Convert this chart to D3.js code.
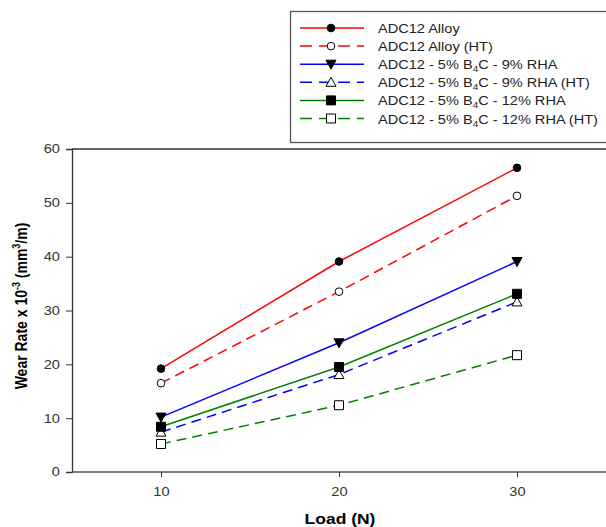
<!DOCTYPE html>
<html>
<head>
<meta charset="utf-8">
<script src="https://cdn.jsdelivr.net/npm/d3@7"></script>
<style>
  body { margin: 0; background: #fff; }
  svg { display: block; font-family: 'Liberation Sans', Arial, sans-serif; }
</style>
</head>
<body>
<svg></svg>
<script>
// data
const loads = [10, 20, 30]
const alloy = [19.2, 39.1, 56.5]
const alloyHT = [16.5, 33.5, 51.3]
const rha9 = [10.2, 24.0, 39.1]
const rha9HT = [7.4, 18.1, 31.6]
const rha12 = [8.4, 19.5, 33.1]
const rha12HT = [5.2, 12.4, 21.7]
const yTicks = [0, 10, 20, 30, 40, 50, 60]
const xTicks = [10, 20, 30]

const series = [
    {name: 'ADC12 Alloy', values: alloy, color: '#ff0000', dashed: false, marker: 'circle', fill: '#000'},
    {name: 'ADC12 Alloy (HT)', values: alloyHT, color: '#ff0000', dashed: true, marker: 'circle', fill: '#fff'},
    {name: 'ADC12 - 5% B|4|C - 9% RHA', values: rha9, color: '#0000ff', dashed: false, marker: 'triDown', fill: '#000'},
    {name: 'ADC12 - 5% B|4|C - 9% RHA (HT)', values: rha9HT, color: '#0000ff', dashed: true, marker: 'triUp', fill: '#fff'},
    {name: 'ADC12 - 5% B|4|C - 12% RHA', values: rha12, color: '#008000', dashed: false, marker: 'square', fill: '#000'},
    {name: 'ADC12 - 5% B|4|C - 12% RHA (HT)', values: rha12HT, color: '#008000', dashed: true, marker: 'square', fill: '#fff'}
]

const width = 606
const height = 527
const svg = d3.select('svg').attr('width', width).attr('height', height)

// the original picture is stretched sideways, so text gets a small x scale
const stretch = 1.22

const plotLeft = 72, plotTop = 149, plotBottom = 472, plotRight = 606

const xScale = d3.scaleLinear().domain([5, 35]).range([plotLeft, plotLeft + 534])
const yScale = d3.scaleLinear().domain([0, 60]).range([plotBottom, plotTop])

// frame: top line + axes
svg.append('line')
    .attr('x1', plotLeft).attr('x2', plotRight).attr('y1', plotTop).attr('y2', plotTop)
    .attr('stroke', '#333').attr('stroke-width', 1.3)

const yAxis = d3.axisLeft(yScale).tickValues(yTicks).tickSize(6)
const gy = svg.append('g').attr('transform', 'translate(' + plotLeft + ',0)').call(yAxis)
gy.select('.domain').attr('stroke', '#333').attr('stroke-width', 1.3)
gy.selectAll('.tick line').attr('stroke', '#333')
gy.selectAll('.tick text')
    .attr('x', -12 / stretch)
    .attr('transform', 'scale(' + stretch + ',1)')
    .attr('font-size', 12).attr('fill', '#333')
    .attr('font-family', "'Liberation Sans', Arial, sans-serif")

const xAxis = d3.axisBottom(xScale).tickValues(xTicks).tickSize(5).tickPadding(10)
const gx = svg.append('g').attr('transform', 'translate(0,' + plotBottom + ')').call(xAxis)
gx.select('.domain').attr('d', 'M' + plotLeft + ',0H' + plotRight).attr('stroke', '#555').attr('stroke-width', 1.3)
gx.selectAll('.tick line').attr('stroke', '#333')
gx.selectAll('.tick text')
    .attr('transform', 'scale(' + stretch + ',1)')
    .attr('font-size', 12).attr('fill', '#333')
    .attr('font-family', "'Liberation Sans', Arial, sans-serif")

// axis titles
svg.append('text')
    .attr('transform', 'translate(340,524) scale(1.25,1)')
    .attr('text-anchor', 'middle')
    .attr('font-size', 14).attr('font-weight', 'bold')
    .text('Load (N)')

const yt = svg.append('text')
    .attr('transform', 'translate(27,306) scale(1.22,1) rotate(-90)')
    .attr('text-anchor', 'middle')
    .attr('font-size', 14).attr('font-weight', 'bold')
yt.append('tspan').text('Wear Rate x 10')
yt.append('tspan').attr('dy', -6).attr('font-size', 9).text('-3')
yt.append('tspan').attr('dy', 6).text(' (mm')
yt.append('tspan').attr('dy', -6).attr('font-size', 9).text('3')
yt.append('tspan').attr('dy', 6).text('/m)')

const markerPath = (type) => {
    if (type === 'circle') return d3.symbol(d3.symbolCircle, 46)()
    if (type === 'square') return 'M-4.5,-4.5H4.5V4.5H-4.5Z'
    if (type === 'triDown') return 'M-5,-4H5L0,5Z'
    return 'M-5,4H5L0,-5Z'
}

const line = d3.line()
    .x((d, i) => xScale(loads[i]))
    .y(d => yScale(d))

series.forEach(s => {
    svg.append('path')
        .attr('d', line(s.values))
        .attr('fill', 'none')
        .attr('stroke', s.color)
        .attr('stroke-width', 1.5)
        .attr('stroke-dasharray', s.dashed ? '10,6' : null)
    svg.selectAll(null)
        .data(s.values)
        .enter()
        .append('path')
        .attr('d', markerPath(s.marker))
        .attr('transform', (d, i) => 'translate(' + xScale(loads[i]) + ',' + yScale(d) + ')')
        .attr('fill', s.fill)
        .attr('stroke', '#000')
        .attr('stroke-width', 1)
})

// legend
const lg = svg.append('g')
lg.append('rect')
    .attr('x', 290.5).attr('y', 11.5).attr('width', 330).attr('height', 131)
    .attr('fill', '#fff').attr('stroke', '#555').attr('stroke-width', 1.3)

series.forEach((s, i) => {
    const y = 28 + i * 18.1
    lg.append('line')
        .attr('x1', 300).attr('x2', 364).attr('y1', y).attr('y2', y)
        .attr('stroke', s.color).attr('stroke-width', 1.5)
        .attr('stroke-dasharray', s.dashed ? '12,7' : null)
    lg.append('path')
        .attr('d', markerPath(s.marker))
        .attr('transform', 'translate(331,' + y + ')')
        .attr('fill', s.fill).attr('stroke', '#000').attr('stroke-width', 1)
    const t = lg.append('text')
        .attr('transform', 'translate(378,' + (y + 5) + ') scale(1.12,1)')
        .attr('font-size', 13).attr('fill', '#222')
    const parts = s.name.split('|')
    t.append('tspan').text(parts[0])
    if (parts.length > 1) {
        t.append('tspan').attr('dy', 3).attr('font-size', 9).text(parts[1])
        t.append('tspan').attr('dy', -3).text(parts[2])
    }
})
</script>
</body>
</html>
